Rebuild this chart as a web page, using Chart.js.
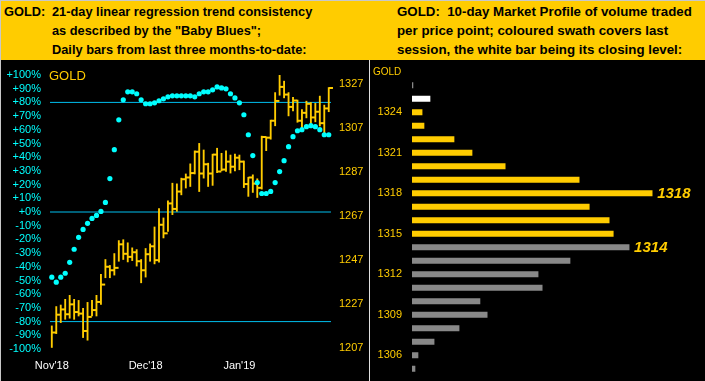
<!DOCTYPE html>
<html>
<head>
<meta charset="utf-8">
<script src="https://cdn.jsdelivr.net/npm/chart.js@4.4.1/dist/chart.umd.min.js"></script>
<style>
body { margin: 0; background: #000; }
#wrap { position: relative; width: 705px; height: 381px; overflow: hidden; background: #000; }
#hdr { position: absolute; left: 0; top: 0; width: 705px; height: 60px; background: #ffcc00; border-top: 1px solid #c8c8c8; box-sizing: border-box; }
.t { position: absolute; font-family: "Liberation Sans", Arial, sans-serif; font-weight: bold; line-height: 19px; color: #000; white-space: nowrap; }
#edge { position: absolute; left: 0; top: 0; width: 1px; height: 381px; background: #c8c8c8; }
#sep { position: absolute; left: 369px; top: 60px; width: 1px; height: 321px; background: #e0e0e0; }
#left { position: absolute; left: 1px; top: 60px; }
#right { position: absolute; left: 370px; top: 60px; }
.tag { position: absolute; font-family: "Liberation Sans", Arial, sans-serif; color: #ffcc00; white-space: nowrap; }
</style>
</head>
<body>
<div id="wrap">
  <div id="hdr">
    <div class="t" style="left:4px;top:1px;font-size:12.8px">GOLD:</div>
    <div class="t" style="left:52px;top:1px;font-size:12.8px">21-day linear regression trend consistency<br>as described by the "Baby Blues";<br>Daily bars from last three months-to-date:</div>
    <div class="t" style="left:397px;top:1px;font-size:13.3px">GOLD:&nbsp; 10-day Market Profile of volume traded<br>per price point; coloured swath covers last<br>session, the white bar being its closing level:</div>
  </div>
  <div id="edge"></div>
  <canvas id="left" width="367" height="321"></canvas>
  <div id="sep"></div>
  <canvas id="right" width="335" height="321"></canvas>
  <div class="tag" style="left:49px;top:68px;font-size:13px">GOLD</div>
  <div class="tag" style="left:373px;top:66px;font-size:10px">GOLD</div>
</div>

<script>
// ---------------------------------------------------------------- data : daily bars
const monthLabels = ["Nov'18", "Dec'18", "Jan'19"];
const monthStarts = [0, 21, 42];

const highs = [1217.1, 1225.9, 1226.6, 1229.2, 1231.0, 1229.2, 1228.7, 1225.1, 1227.8, 1228.7,
  1231.0, 1240.5, 1247.3, 1244.6, 1250.0, 1255.9, 1256.3, 1254.9, 1252.6, 1251.8,
  1247.3, 1252.3, 1254.4, 1262.1, 1270.4, 1266.2, 1274.0, 1282.0, 1281.7, 1284.3,
  1286.2, 1290.8, 1296.7, 1300.1, 1297.1, 1291.1, 1295.2, 1297.9, 1295.6, 1296.7,
  1294.8, 1295.2, 1294.8, 1292.1, 1284.7, 1285.8, 1284.0, 1303.4, 1303.1, 1310.7,
  1323.2, 1331.1, 1328.4, 1323.2, 1321.0, 1319.8, 1315.5, 1319.3, 1318.7, 1318.3,
  1321.6, 1317.5, 1325.5];
const lows = [1207.3, 1213.6, 1218.6, 1220.1, 1220.6, 1220.1, 1221.6, 1211.8, 1210.6, 1221.6,
  1221.6, 1226.9, 1239.0, 1239.0, 1240.2, 1246.5, 1247.3, 1246.2, 1246.8, 1244.3,
  1236.7, 1239.3, 1246.5, 1245.3, 1246.1, 1257.1, 1260.1, 1267.7, 1269.2, 1276.7,
  1279.8, 1280.5, 1286.2, 1278.2, 1284.3, 1280.5, 1281.0, 1286.8, 1287.6, 1287.3,
  1286.6, 1287.6, 1288.1, 1280.0, 1276.0, 1277.8, 1275.5, 1279.3, 1296.8, 1302.0,
  1308.1, 1322.0, 1320.8, 1312.6, 1314.9, 1309.7, 1306.6, 1311.7, 1309.2, 1309.9,
  1308.0, 1304.7, 1314.5];
const closes = [1214.1, 1222.2, 1224.6, 1222.4, 1226.9, 1223.4, 1222.7, 1214.8, 1221.2, 1224.3,
  1228.0, 1235.9, 1244.0, 1242.4, 1243.5, 1254.2, 1249.9, 1248.5, 1250.6, 1246.5,
  1242.4, 1249.7, 1253.3, 1247.0, 1263.1, 1259.2, 1272.8, 1270.3, 1278.2, 1283.8,
  1284.6, 1286.6, 1296.3, 1286.4, 1290.6, 1286.4, 1295.0, 1287.3, 1288.2, 1291.8,
  1289.5, 1293.6, 1291.8, 1281.6, 1284.6, 1281.8, 1279.9, 1303.0, 1302.7, 1310.4,
  1319.4, 1325.8, 1322.3, 1316.7, 1319.6, 1310.4, 1314.0, 1318.1, 1311.9, 1314.5,
  1309.3, 1316.0, 1325.3];
// 21-day linear regression trend consistency ("Baby Blues"), in %
const babyBlues = [-47.6, -51.2, -47.6, -44.7, -36.7, -27.2, -18.5, -12.7, -8.3, -4.7,
  -2.5, 0.4, 7.0, 24.4, 45.5, 67.3, 81.9, 87.7, 87.7, 86.3,
  81.9, 79.0, 79.0, 79.7, 81.2, 82.6, 84.1, 84.8, 84.8, 84.8,
  84.8, 84.8, 84.1, 86.3, 87.7, 87.7, 89.2, 91.3, 90.6, 89.9,
  86.3, 83.3, 79.7, 71.0, 56.4, 41.2, 21.5, 13.5, 13.5, 15.0,
  21.5, 29.5, 37.5, 47.7, 55.0, 59.3, 60.1, 62.3, 63.0, 62.3,
  60.1, 56.4, 56.4];
const refLevels = [80, 0, -80];
const priceTicks = [1207, 1227, 1247, 1267, 1287, 1307, 1327];

// ---------------------------------------------------------------- data : market profile
const levels = [1326, 1325, 1324, 1323, 1322, 1321, 1320, 1319, 1318, 1317, 1316,
  1315, 1314, 1313, 1312, 1311, 1310, 1309, 1308, 1307, 1306, 1305];
const volumes = [0.4, 7.5, 4.2, 5.0, 17.5, 25.0, 38.8, 69.6, 100, 73.8, 82.1,
  83.8, 90.4, 65.8, 52.5, 54.2, 28.3, 31.3, 19.6, 9.2, 2.5, 1.25];
const shownLevels = [1324, 1321, 1318, 1315, 1312, 1309, 1306];
const sessionHigh = 1324;
const sessionLow = 1315;
const closeLevel = 1325;
const callouts = [1318, 1314];

const GOLD = '#ffcc00';
const CYAN = '#00ffff';
const LINE = '#00bfef';
const FONT = '"Liberation Sans", Arial, sans-serif';

// ---------------------------------------------------------------- L E F T   C H A R T
const last = highs.length - 1;
const refSets = refLevels.map(v => ({
    type: 'line',
    data: [{x: -0.4, y: v}, {x: last + 0.5, y: v}],
    yAxisID: 'y',
    borderColor: LINE,
    borderWidth: 1,
    pointRadius: 0,
    order: 3
}));

new Chart(document.getElementById('left'), {
    type: 'bar',
    data: {
        datasets: [
            ...refSets,
            {
                type: 'bar',
                data: lows.map((l, i) => ({x: i, y: [l, highs[i]]})),
                yAxisID: 'y1',
                backgroundColor: GOLD,
                barThickness: 1.2,
                order: 2
            },
            {
                type: 'line',
                data: closes.map((c, i) => ({x: i + 0.5, y: c})),
                yAxisID: 'y1',
                showLine: false,
                pointStyle: 'line',
                pointRadius: 2,
                pointBorderWidth: 2,
                pointBorderColor: GOLD,
                order: 1
            },
            {
                type: 'line',
                data: babyBlues.map((v, i) => ({x: i, y: v})),
                yAxisID: 'y',
                showLine: false,
                pointRadius: 2.6,
                pointBorderWidth: 0,
                pointBackgroundColor: CYAN,
                order: 0
            }
        ]
    },
    options: {
        responsive: false,
        animation: false,
        layout: { padding: { top: 15, left: 0, right: 0, bottom: 0 } },
        plugins: { legend: { display: false }, tooltip: { enabled: false } },
        scales: {
            x: {
                type: 'linear',
                offset: false,
                min: -1.3,
                max: 63.4,
                grid: { display: false, drawTicks: false },
                border: { display: false },
                afterBuildTicks: s => { s.ticks = monthStarts.map(v => ({value: v})); },
                afterFit: s => { s.height = 32; s.paddingLeft = 0; s.paddingRight = 0; },
                ticks: {
                    color: '#fff',
                    font: { family: FONT, size: 11 },
                    padding: 10,
                    maxRotation: 0,
                    autoSkip: false,
                    callback: v => monthLabels[monthStarts.indexOf(v)]
                }
            },
            y: {
                position: 'left',
                min: -100,
                max: 100,
                grid: { display: false, drawTicks: false },
                border: { display: false },
                afterFit: s => { s.width = 45; },
                ticks: {
                    stepSize: 10,
                    autoSkip: false,
                    color: CYAN,
                    padding: 5,
                    font: { family: FONT, size: 11 },
                    callback: v => (v >= 0 ? '+' : '') + v + '%'
                }
            },
            y1: {
                position: 'right',
                min: 1206.6,
                max: 1331.2,
                grid: { display: false, drawTicks: false },
                border: { display: false },
                afterBuildTicks: s => { s.ticks = priceTicks.map(v => ({value: v})); },
                afterFit: s => { s.width = 33; },
                ticks: {
                    autoSkip: false,
                    color: GOLD,
                    padding: 4,
                    font: { family: FONT, size: 11 },
                    callback: v => String(v)
                }
            }
        }
    }
});

// ---------------------------------------------------------------- R I G H T   C H A R T
const barColor = lv => {
    if (lv === closeLevel) return '#ffffff';
    if (lv >= sessionLow && lv <= sessionHigh) return GOLD;
    return '#888888';
};

const calloutPlugin = {
    id: 'callouts',
    afterDatasetsDraw(chart) {
        const ctx = chart.ctx;
        const meta = chart.getDatasetMeta(0);
        ctx.save();
        ctx.font = 'italic bold 15px ' + FONT;
        ctx.fillStyle = GOLD;
        ctx.textBaseline = 'middle';
        callouts.forEach(lv => {
            const el = meta.data[levels.indexOf(lv)];
            ctx.fillText(String(lv), el.x + 5, el.y + 1);
        });
        ctx.restore();
    }
};

new Chart(document.getElementById('right'), {
    type: 'bar',
    data: {
        labels: levels.map(String),
        datasets: [{
            data: volumes,
            backgroundColor: levels.map(barColor),
            barThickness: 5.5
        }]
    },
    plugins: [calloutPlugin],
    options: {
        indexAxis: 'y',
        responsive: false,
        animation: false,
        layout: { padding: { top: 18.5, bottom: 5.5, left: 0, right: 0 } },
        plugins: { legend: { display: false }, tooltip: { enabled: false } },
        scales: {
            x: { min: 0, max: 122, display: false },
            y: {
                grid: { display: false, drawTicks: false },
                border: { display: false },
                afterFit: s => { s.width = 42; s.paddingTop = 0; s.paddingBottom = 0; },
                ticks: {
                    autoSkip: false,
                    color: GOLD,
                    padding: 10,
                    font: { family: FONT, size: 11 },
                    callback: (v, i) => shownLevels.includes(levels[i]) ? String(levels[i]) : ''
                }
            }
        }
    }
});
</script>
</body>
</html>
